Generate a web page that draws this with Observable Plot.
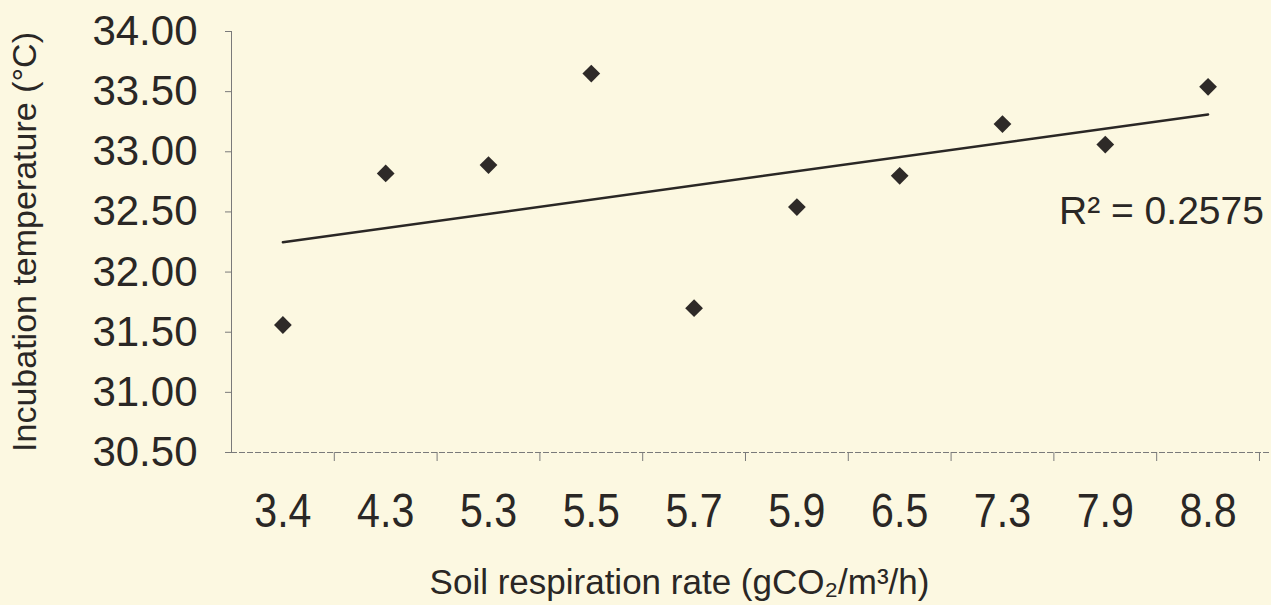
<!DOCTYPE html>
<html>
<head>
<meta charset="utf-8">
<script src="https://cdn.jsdelivr.net/npm/d3@7"></script>
<script src="https://cdn.jsdelivr.net/npm/@observablehq/plot@0.6"></script>
<style>
  html, body { margin: 0; padding: 0; background: #fcf8e1; }
  #chart svg { display: block; }
</style>
</head>
<body>
<div id="chart"></div>
<script>
// Data
const categories = ["3.4", "4.3", "5.3", "5.5", "5.7", "5.9", "6.5", "7.3", "7.9", "8.8"];
const temperatures = [31.56, 32.82, 32.89, 33.65, 31.70, 32.54, 32.80, 33.23, 33.06, 33.54];
const yTicks = [30.5, 31, 31.5, 32, 32.5, 33, 33.5, 34];
const r2Label = "R\u00B2 = 0.2575";
const xTitle = "Soil respiration rate (gCO\u2082/m\u00B3/h)";
const yTitle = "Incubation temperature (\u00B0C)";

const data = categories.map((c, i) => ({ i, cat: c, temp: temperatures[i] }));

const ink = "#2a2725";
const axisGray = "#7a7a7a";
const sans = "'Liberation Sans', Arial, Helvetica, sans-serif";

const chart = Plot.plot({
  width: 1271,
  height: 605,
  marginLeft: 231,
  marginRight: 0,
  marginTop: 31,
  marginBottom: 153,
  style: { background: "#fcf8e1", fontFamily: sans, color: ink, overflow: "visible" },
  x: { type: "linear", domain: [-0.5, 9.617], axis: null },
  y: { domain: [30.5, 34], axis: null },
  marks: [
    Plot.ruleY([30.5], { stroke: axisGray, strokeWidth: 1, strokeDasharray: "6,2" }),
    Plot.ruleX([-0.5], { stroke: axisGray, strokeWidth: 1 }),
    Plot.axisY({
      ticks: yTicks,
      tickFormat: d3.format(".2f"),
      tickSize: 6,
      tickPadding: 28,
      fontSize: 42,
      fontFamily: sans,
      stroke: axisGray,
      fill: ink,
      label: null
    }),
    Plot.axisX({
      ticks: d3.range(0.5, 10, 1),
      tickFormat: () => "",
      tickSize: 9,
      stroke: axisGray,
      label: null
    }),
    Plot.axisX({
      ticks: d3.range(categories.length),
      tickFormat: (i) => categories[i],
      tickSize: 0,
      tickPadding: 40,
      fontSize: 49,
      fontFamily: sans,
      fill: ink,
      label: null
    }),
    Plot.linearRegressionY(data, { x: "i", y: "temp", ci: 0, stroke: ink, strokeWidth: 2.5 }),
    Plot.dot(data, { x: "i", y: "temp", symbol: "diamond2", r: 8, fill: "#2e2a28", stroke: "none" }),
    Plot.text([r2Label], {
      x: 7.55, y: 32.50, textAnchor: "start", lineAnchor: "middle",
      fontSize: 39, fontFamily: sans, fill: ink
    }),
    Plot.text([xTitle], {
      frameAnchor: "bottom", dx: -72, dy: 130, lineAnchor: "middle",
      fontSize: 35, fontFamily: sans, fill: ink
    }),
    Plot.text([yTitle], {
      frameAnchor: "left", rotate: -90, dx: -206, textAnchor: "middle", lineAnchor: "middle",
      fontSize: 34, fontFamily: sans, fill: ink
    })
  ]
});

// Condense the category tick labels horizontally (the reference uses a narrow face)
const catSet = new Set(categories);
d3.select(chart).selectAll("text").each(function () {
  if (!catSet.has(this.textContent.trim())) return;
  const t = this.getAttribute("transform");
  if (t && t.includes("translate")) {
    this.setAttribute("transform", t + " scale(0.84,1)");
  } else {
    const xa = this.getAttribute("x");
    const x = xa != null && !isNaN(+xa) ? +xa : 0;
    this.setAttribute("x", 0);
    this.setAttribute("transform", `${t || ""} translate(${x},0) scale(0.84,1)`.trim());
  }
});

document.getElementById("chart").append(chart);
</script>
</body>
</html>
